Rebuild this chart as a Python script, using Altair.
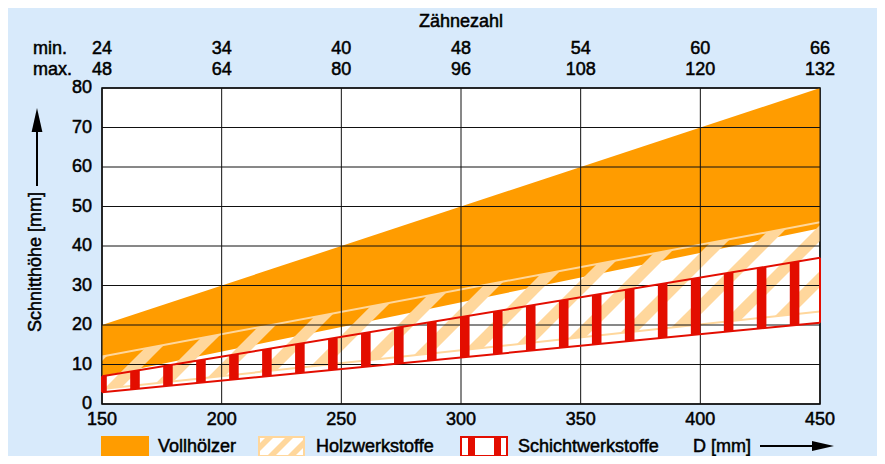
import altair as alt
import numpy as np
import pandas as pd

# ---------------- data ----------------
D_ticks = [150, 200, 250, 300, 350, 400, 450]
Y_ticks = [0, 10, 20, 30, 40, 50, 60, 70, 80]
teeth_min = [24, 34, 40, 48, 54, 60, 66]
teeth_max = [48, 64, 80, 96, 108, 120, 132]

D_ends = [150, 450]
voll_lower = [7.0, 44.5]
voll_upper = [20.0, 80.0]
holz_lower = [3.8, 23.4]
holz_upper = [12.0, 46.0]
schicht_lower = [3.0, 20.6]
schicht_upper = [7.0, 37.0]

legend_labels = ["Vollhölzer", "Holzwerkstoffe", "Schichtwerkstoffe"]

# ---------------- style / layout ----------------
W, H = 718, 316
TOTAL_W, TOTAL_H = 869, 448
PAD_L, PAD_T = 94, 80
BG = "#D8EAFB"
ORANGE = "#FF9C00"
LIGHT = "#FFD79C"
RED = "#E30D00"
FONT = "Liberation Sans"
FS = 18
TSTROKE = 0.5

PX_D = W / (D_ends[1] - D_ends[0])
PX_Y = H / 80.0

xs = alt.Scale(domain=[150, 450], nice=False, zero=False)
ys = alt.Scale(domain=[0, 80], nice=False, zero=False)


def X(field):
    return alt.X(field, type="quantitative", scale=xs, axis=None)


def Y(field):
    return alt.Y(field, type="quantitative", scale=ys, axis=None)


def line_of(vals):
    s = (vals[1] - vals[0]) / (D_ends[1] - D_ends[0])
    return (s, vals[0] - s * D_ends[0])


def clip_region(lo_lines, hi_lines, xmin, xmax):
    cands = {xmin, xmax}
    allL = lo_lines + hi_lines
    for i in range(len(allL)):
        for j in range(i + 1, len(allL)):
            s1, b1 = allL[i]
            s2, b2 = allL[j]
            if abs(s1 - s2) > 1e-12:
                x = (b2 - b1) / (s1 - s2)
                if xmin <= x <= xmax:
                    cands.add(x)
    pts = []
    for x in sorted(cands):
        lo = max(s * x + b for s, b in lo_lines)
        hi = min(s * x + b for s, b in hi_lines)
        if hi >= lo - 1e-9:
            pts.append((x, lo, max(hi, lo)))
    return pts


# ---------------- derived decoration ----------------
m = PX_D / PX_Y
period = 46 / PX_D
sw = 16 / PX_D
a0 = D_ends[0] + (-5) / PX_D
hl, hu = line_of(holz_lower), line_of(holz_upper)
rows = []
for k in range(-5, 40):
    ac = a0 + k * period
    e_hi = (m, -m * (ac - sw / 2))
    e_lo = (m, -m * (ac + sw / 2))
    pts = clip_region([hl, e_lo], [hu, e_hi], D_ends[0], D_ends[1])
    if len(pts) < 2:
        continue
    for x, lo, hi in pts:
        rows.append({"k": k, "D": x, "lo": lo, "hi": hi})
stripes = pd.DataFrame(rows)

bar_period = 13.78
bar_w = 4.0
brows = []
for k in range(0, 30):
    c = D_ends[0] + k * bar_period
    x0, x1 = max(c - bar_w / 2, D_ends[0]), min(c + bar_w / 2, D_ends[1])
    if x1 <= x0:
        continue
    for x in (x0, x1):
        brows.append({"k": k, "D": x,
                      "lo": float(np.interp(x, D_ends, schicht_lower)),
                      "hi": float(np.interp(x, D_ends, schicht_upper))})
bars = pd.DataFrame(brows)

bands = pd.DataFrame({"D": D_ends, "vl": voll_lower, "vu": voll_upper,
                      "hl": holz_lower, "hu": holz_upper,
                      "sl": schicht_lower, "su": schicht_upper})
holz_lines = pd.DataFrame({"D": D_ends * 2, "v": holz_lower + holz_upper,
                           "g": ["l", "l", "u", "u"]})
sch_lines = pd.DataFrame({"D": D_ends * 2, "v": schicht_lower + schicht_upper,
                          "g": ["l", "l", "u", "u"]})
teeth = pd.DataFrame({"D": D_ticks, "mn": teeth_min, "mx": teeth_max})
dt = pd.DataFrame({"D": D_ticks})
yt = pd.DataFrame({"Y": Y_ticks})
one = pd.DataFrame({"a": [0]})

TXT = dict(fontSize=FS, font=FONT, baseline="middle", color="black", stroke="black", strokeWidth=TSTROKE)

# ---------------- layers ----------------
orange = alt.Chart(bands).mark_area(color=ORANGE, clip=True).encode(
    x=X("D"), y=Y("vl").stack(None), y2="vu")

hatch = alt.Chart(stripes).mark_area(color=LIGHT, clip=True).encode(
    x=X("D"), y=Y("lo").stack(None), y2="hi", detail="k:N")

hatch_lines = alt.Chart(holz_lines).mark_line(color=LIGHT, strokeWidth=2, clip=True).encode(
    x=X("D"), y=Y("v"), detail="g:N")

vgrid = alt.Chart(dt).mark_rule(color="#111", strokeWidth=1).encode(x=X("D"))
hgrid = alt.Chart(yt).mark_rule(color="#111", strokeWidth=1).encode(y=Y("Y"))

red_bars = alt.Chart(bars).mark_area(color=RED, clip=True).encode(
    x=X("D"), y=Y("lo").stack(None), y2="hi", detail="k:N")
red_lines = alt.Chart(sch_lines).mark_line(color=RED, strokeWidth=2, clip=True).encode(
    x=X("D"), y=Y("v"), detail="g:N")
red_ends = alt.Chart(bands).mark_rule(color=RED, strokeWidth=2).encode(
    x=X("D"), y=Y("sl"), y2="su")

xlab = alt.Chart(dt).mark_text(align="center", **TXT).encode(
    x=X("D"), y=alt.value(H + 16), text="D:N")
ylab = alt.Chart(yt).mark_text(align="right", **TXT).encode(
    x=alt.value(-10), y=Y("Y"), text="Y:N")
top_min = alt.Chart(teeth).mark_text(align="center", **TXT).encode(
    x=X("D"), y=alt.value(-39), text="mn:N")
top_max = alt.Chart(teeth).mark_text(align="center", **TXT).encode(
    x=X("D"), y=alt.value(-18), text="mx:N")


def txt(s, x, y, align="left", angle=0):
    return alt.Chart(one).mark_text(text=s, align=align, angle=angle, **TXT).encode(
        x=alt.value(x), y=alt.value(y))


texts = [
    txt("Zähnezahl", W / 2, -66, "center"),
    txt("min.", -69, -39),
    txt("max.", -69, -18),
    txt("Schnitthöhe [mm]", -66, 174, "center", 270),
    txt(legend_labels[0], 56, 359),
    txt(legend_labels[1], 214, 359),
    txt(legend_labels[2], 416, 359),
    txt("D [mm]", 591, 359),
]

y_arrow = alt.Chart(one).mark_rule(color="black", strokeWidth=2).encode(
    x=alt.value(-65), y=alt.value(98), y2=alt.value(36))
y_head = alt.Chart(one).mark_point(shape="M0,-1L0.45,1L-0.45,1Z", filled=True, opacity=1,
                                   color="black", size=576).encode(x=alt.value(-65), y=alt.value(32))
x_arrow = alt.Chart(one).mark_rule(color="black", strokeWidth=2).encode(
    x=alt.value(658), x2=alt.value(716), y=alt.value(358))
x_head = alt.Chart(one).mark_point(shape="M1,0L-1,-0.45L-1,0.45Z", filled=True, opacity=1,
                                   color="black", size=484).encode(x=alt.value(721), y=alt.value(358))

LY0, LY1 = 348, 369
sw_orange = alt.Chart(one).mark_rect(color=ORANGE).encode(
    x=alt.value(-1), x2=alt.value(47), y=alt.value(LY0), y2=alt.value(LY1))
sw_h_bg = alt.Chart(one).mark_rect(color="white").encode(
    x=alt.value(156), x2=alt.value(203), y=alt.value(LY0), y2=alt.value(LY1))
sw_h_border = alt.Chart(one).mark_rect(fill=None, fillOpacity=0, stroke=LIGHT, strokeWidth=2).encode(
    x=alt.value(157), x2=alt.value(202), y=alt.value(LY0 + 1), y2=alt.value(LY1 - 1))
sw_r_bg = alt.Chart(one).mark_rect(color="white").encode(
    x=alt.value(358), x2=alt.value(406), y=alt.value(LY0), y2=alt.value(LY1))
sw_r_b1 = alt.Chart(one).mark_rect(color=RED).encode(
    x=alt.value(366), x2=alt.value(373), y=alt.value(LY0), y2=alt.value(LY1))
sw_r_b2 = alt.Chart(one).mark_rect(color=RED).encode(
    x=alt.value(392), x2=alt.value(399), y=alt.value(LY0), y2=alt.value(LY1))
sw_r_border = alt.Chart(one).mark_rect(fill=None, fillOpacity=0, stroke=RED, strokeWidth=2).encode(
    x=alt.value(359), x2=alt.value(405), y=alt.value(LY0 + 1), y2=alt.value(LY1 - 1))

lrows = []
L, R = 156.0, 203.0
lp, lw = 20.0, 8.0
for k in range(-3, 6):
    a = L - 12 + k * lp
    l1 = (-1.0, a + LY1)
    l2 = (-1.0, a + lw + LY1)
    pts = clip_region([(0.0, float(LY0)), l1], [(0.0, float(LY1)), l2], L, R)
    if len(pts) < 2:
        continue
    for x, lo, hi in pts:
        lrows.append({"k": k, "px": x, "lo": lo, "hi": hi})
lstr = pd.DataFrame(lrows)
leg_hatch = alt.Chart(lstr).mark_area(color=LIGHT).encode(
    x=alt.X("px:Q", scale=alt.Scale(domain=[0, W], nice=False, zero=False), axis=None),
    y=alt.Y("lo:Q", scale=alt.Scale(domain=[0, H], nice=False, zero=False, reverse=True), axis=None).stack(None),
    y2="hi", detail="k:N")

main = alt.layer(orange, hatch, hatch_lines, vgrid, hgrid, red_bars, red_lines, red_ends,
                 xlab, ylab, top_min, top_max, *texts, y_arrow, y_head, x_arrow, x_head,
                 sw_orange, sw_h_bg, sw_r_bg, sw_r_b1, sw_r_b2, sw_r_border)

chart = alt.layer(main, leg_hatch, sw_h_border).resolve_scale(x="independent", y="independent").properties(
    width=W, height=H,
    autosize=alt.AutoSizeParams(type="none"),
    padding={"left": PAD_L, "top": PAD_T, "right": TOTAL_W - PAD_L - W, "bottom": TOTAL_H - PAD_T - H},
    background=BG,
).configure_view(stroke="black", strokeWidth=1.5, fill="white")

chart.save("out.html", embed_options={"renderer": "svg", "actions": False})
